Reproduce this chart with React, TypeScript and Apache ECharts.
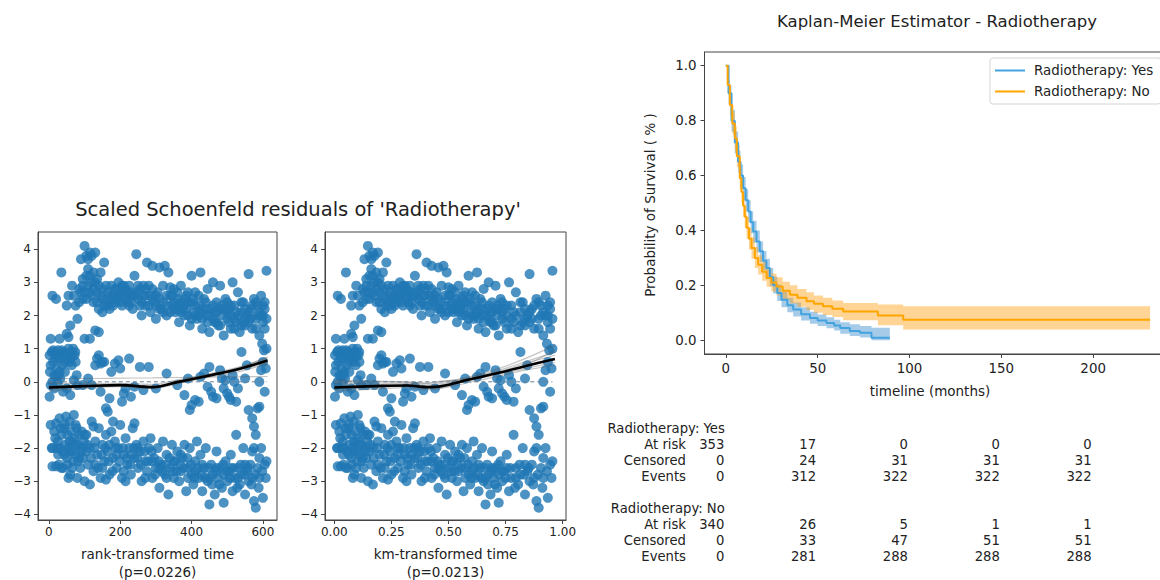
import React, { useEffect, useRef } from "react";
import * as echarts from "echarts";

const FONT = "DejaVu Sans";

// Scaled Schoenfeld residual points: [rank-transformed time, km-transformed time, residual]
const upperPoints = [
  [10,0.015,2.6],[20,0.029,2.5],[35,0.051,3.3],[50,0.074,2.3],[55,0.081,2.6],[65,0.096,2.9],[70,0.103,2.6],[75,0.11,2.3],[80,0.118,1.9],[60,0.088,1.7],
  [85,0.125,2.8],[90,0.132,3.7],[95,0.14,3.1],[100,0.147,4.1],[105,0.154,3.8],[110,0.162,3.7],[115,0.169,3.9],[120,0.176,3.8],[125,0.184,3.3],[130,0.191,3.9],
  [105,0.154,2.5],[110,0.162,2.9],[115,0.169,3.2],[120,0.176,2.6],[125,0.184,2.4],[130,0.191,3.0],[135,0.198,2.7],[100,0.147,2.7],[95,0.14,2.5],[140,0.206,2.2],
  [145,0.213,3.3],[150,0.221,2.1],[155,0.228,3.6],[140,0.206,2.9],[135,0.198,2.4],[90,0.132,2.7],[125,0.184,2.8],[110,0.162,3.4],[145,0.213,2.6],[150,0.221,2.8],
  [160,0.235,2.4],[165,0.243,2.7],[170,0.25,2.2],[175,0.257,2.9],[180,0.265,2.6],[185,0.272,2.8],[190,0.279,2.5],[195,0.287,3.0],[200,0.294,2.7],[205,0.301,2.3],
  [210,0.309,2.6],[215,0.316,2.8],[220,0.323,2.4],[225,0.331,2.9],[230,0.338,2.7],[235,0.345,2.2],[240,0.353,3.2],[245,0.36,3.85],[250,0.368,2.5],[255,0.375,2.8],
  [260,0.382,2.0],[265,0.39,2.6],[270,0.397,2.3],[275,0.404,3.6],[280,0.412,2.9],[285,0.419,2.1],[290,0.426,3.5],[295,0.434,2.4],[300,0.441,1.9],[305,0.448,2.7],
  [310,0.456,3.45],[315,0.463,2.2],[320,0.47,2.9],[325,0.478,3.5],[330,0.485,2.0],[335,0.492,3.3],[340,0.5,2.6],[345,0.507,2.3],[350,0.515,2.8],[355,0.522,2.1],
  [360,0.529,2.5],[365,0.537,1.8],[370,0.544,2.9],[375,0.551,2.2],[380,0.559,2.0],[385,0.566,2.6],[390,0.573,2.4],[395,0.581,1.7],[400,0.588,3.2],[405,0.595,2.1],
  [410,0.603,2.7],[415,0.61,1.9],[420,0.617,2.3],[425,0.625,3.3],[430,0.632,1.6],[435,0.639,2.5],[440,0.647,2.0],[445,0.654,2.8],[450,0.662,1.5],[455,0.669,2.2],
  [460,0.676,3.0],[465,0.684,1.8],[470,0.691,2.4],[475,0.698,1.7],[480,0.706,2.9],[485,0.713,2.0],[490,0.72,1.4],[495,0.728,2.5],[500,0.735,1.9],[505,0.745,2.2],
  [510,0.755,1.6],[515,0.765,3.0],[520,0.775,2.3],[525,0.785,1.8],[530,0.795,2.7],[535,0.805,1.5],[540,0.815,2.1],[545,0.825,2.4],[550,0.835,1.7],[555,0.845,2.0],
  [560,0.855,3.25],[565,0.865,2.2],[570,0.875,1.6],[575,0.885,2.5],[580,0.895,1.9],[585,0.905,2.3],[590,0.915,1.4],[595,0.925,2.6],[600,0.935,2.0],[605,0.945,1.6],
  [610,0.955,3.35],[605,0.945,2.4],[600,0.935,1.8],
  [185,0.272,2.4],[195,0.287,2.6],[205,0.301,2.9],[215,0.316,2.5],[225,0.331,2.3],[175,0.257,2.5],[165,0.243,2.3],[245,0.36,2.7],[255,0.375,2.3],[265,0.39,2.9],
  [285,0.419,2.6],[300,0.441,2.3],[320,0.47,2.4],[340,0.5,2.1],[360,0.529,2.2],[380,0.559,2.5],[400,0.588,1.9],[420,0.617,2.0],[440,0.647,2.4],[460,0.676,1.9],
  [480,0.706,2.2],[500,0.735,2.4],[520,0.775,1.9],[540,0.815,1.7],[560,0.855,2.1],[580,0.895,2.4],[595,0.925,2.0],[470,0.691,2.1],[510,0.755,2.0],[550,0.835,2.2],
  [430,0.632,2.2],[410,0.603,2.3],[390,0.573,2.0],[370,0.544,2.4],[350,0.515,2.4],[330,0.485,2.6],[310,0.456,2.2],[290,0.426,2.8],[270,0.397,2.6],[235,0.345,2.6],
  [100,0.147,1.3],[115,0.169,1.3],[130,0.191,1.55],[140,0.206,1.5],[50,0.074,1.45],[55,0.081,1.35],[30,0.044,1.3],[5,0.007,1.3],
  [160,0.235,2.9],[170,0.25,2.6],[180,0.265,2.3],[190,0.279,2.8],[200,0.294,2.4],[210,0.309,2.9],[220,0.323,2.7],[230,0.338,2.4],[240,0.353,2.6],[250,0.368,2.9],
  [260,0.382,2.4],[270,0.397,2.8],[280,0.412,2.3],[290,0.426,2.5],[300,0.441,2.6],[310,0.456,2.5],[320,0.47,2.1],[330,0.485,2.3],[340,0.5,2.85],[350,0.515,2.2],
  [360,0.529,2.7],[370,0.544,2.1],[380,0.559,2.3],[390,0.573,2.7],[400,0.588,2.4],[410,0.603,2.0],[420,0.617,2.6],[430,0.632,1.9],[440,0.647,2.2],[450,0.662,2.0],
  [460,0.676,2.3],[470,0.691,1.8],[480,0.706,1.7],[490,0.72,2.2],[500,0.735,2.1],[510,0.755,2.3],[520,0.775,1.6],[530,0.795,2.0],[540,0.815,2.4],[550,0.835,1.9],
  [560,0.855,1.8],[570,0.875,2.3],[580,0.895,1.6],[590,0.915,2.1],[600,0.935,2.3],[610,0.955,1.9],[605,0.945,2.2],[585,0.905,2.0],[565,0.865,1.9],[545,0.825,1.8],
  [525,0.785,2.1],[505,0.745,1.8],[485,0.713,2.3],[465,0.684,2.1],[445,0.654,1.8],[425,0.625,2.1],[405,0.595,2.5],[385,0.566,2.2],[365,0.537,2.3],[345,0.507,2.6],
  [120,0.176,3.0],[135,0.198,3.1],[150,0.221,2.5],[155,0.228,2.3],[115,0.169,2.7],[105,0.154,3.2],[85,0.125,2.4],[95,0.14,2.9],
];

const middlePoints = [
  [2,0.003,0.8],[5,0.007,0.5],[8,0.012,0.9],[12,0.018,0.6],[15,0.022,0.2],[18,0.026,0.85],[22,0.032,0.4],[25,0.037,0.95],[28,0.041,0.7],[32,0.047,0.1],
  [35,0.051,0.8],[38,0.056,0.5],[42,0.062,0.9],[45,0.066,0.3],[48,0.071,0.85],[52,0.076,0.7],[55,0.081,1.0],[58,0.085,0.6],[62,0.091,0.9],[65,0.096,0.75],
  [68,0.1,1.0],[72,0.106,0.8],[75,0.11,0.6],[78,0.115,0.2],[5,0.007,-0.1],[10,0.015,0.0],[15,0.022,-0.2],[20,0.029,0.15],[25,0.037,-0.05],[30,0.044,0.3],
  [40,0.059,-0.3],[50,0.074,-0.2],[2,0.003,-0.45],[60,0.088,-0.4],[70,0.103,0.05],[80,0.118,-0.1],[95,0.14,-0.1],[110,0.162,0.1],[130,0.191,0.5],[135,0.198,0.7],
  [140,0.206,0.8],[145,0.213,0.55],[150,0.221,0.6],[155,0.228,0.6],[160,0.235,-0.8],[165,0.243,-0.9],[175,0.257,0.3],[185,0.272,0.55],[195,0.287,0.65],[200,0.294,0.4],
  [210,0.309,-0.35],[215,0.316,-0.2],[230,0.338,-0.45],[240,0.353,-0.15],[255,0.375,0.45],[265,0.39,-0.25],[280,0.412,0.45],[300,0.441,-0.2],[120,0.176,-0.1],[170,0.25,-0.5],
  [225,0.331,0.7],[205,0.301,-0.6],[145,0.213,-0.3],[330,0.485,0.25],[360,0.529,-0.1],[380,0.559,-0.4],[390,0.573,0.1],[395,0.581,-0.85],[400,0.588,-0.7],[410,0.603,-0.55],
  [420,0.617,-0.6],[425,0.625,0.15],[435,0.639,0.25],[445,0.654,-0.15],[450,0.662,0.45],[455,0.669,-0.3],[460,0.676,-0.45],[470,0.691,-0.5],[480,0.706,0.35],[485,0.713,0.1],
  [490,0.72,-0.2],[495,0.728,0.05],[500,0.735,-0.35],[505,0.745,-0.45],[510,0.755,-0.55],[515,0.765,0.2],[520,0.775,0.0],[525,0.785,-0.6],[530,0.795,-0.2],[540,0.815,0.9],
  [550,0.835,0.1],[555,0.845,0.5],[560,0.855,-0.85],[570,0.875,-1.1],[575,0.885,-1.35],[585,0.905,-0.8],[590,0.915,-0.75],[595,0.925,0.35],[600,0.935,0.6],[605,0.945,-0.3],
  [608,0.951,0.4],[610,0.955,1.0],[603,0.941,0.95],[598,0.931,1.15],[590,0.915,0.0],[580,0.895,-1.6],
  [3,0.004,0.3],[12,0.018,0.95],[20,0.029,0.7],[28,0.041,0.2],[36,0.053,0.95],[44,0.065,0.6],[56,0.082,0.85],[64,0.094,0.5],[74,0.109,0.9],
];

const lowerPoints = [
  [5,0.007,-1.3],[8,0.012,-2.0],[10,0.015,-2.55],[15,0.022,-1.5],[20,0.029,-1.25],[22,0.032,-2.0],[25,0.037,-1.8],[28,0.041,-2.5],[30,0.044,-1.1],[35,0.051,-1.6],
  [38,0.056,-2.1],[40,0.059,-2.6],[42,0.062,-1.4],[45,0.066,-1.9],[48,0.071,-1.05],[50,0.074,-2.3],[52,0.076,-1.6],[55,0.081,-2.0],[58,0.085,-1.2],[60,0.088,-2.8],
  [62,0.091,-1.5],[65,0.096,-1.8],[68,0.1,-2.4],[70,0.103,-1.0],[72,0.106,-1.7],[75,0.11,-2.2],[78,0.115,-1.4],[80,0.118,-2.9],[82,0.121,-1.9],[85,0.125,-1.6],
  [88,0.129,-2.6],[90,0.132,-2.0],[92,0.135,-1.5],[95,0.14,-2.3],[98,0.144,-1.8],[100,0.147,-3.0],[55,0.081,-2.9],[35,0.051,-2.6],[65,0.096,-2.6],[45,0.066,-1.3],
  [105,0.154,-1.6],[110,0.162,-2.5],[115,0.169,-2.0],[120,0.176,-1.2],[125,0.184,-2.7],[130,0.191,-1.8],[135,0.198,-2.2],[140,0.206,-1.4],[145,0.213,-2.9],[150,0.221,-1.9],
  [155,0.228,-2.4],[160,0.235,-1.6],[165,0.243,-2.1],[170,0.25,-2.8],[175,0.257,-1.5],[180,0.265,-2.3],[185,0.272,-1.8],[190,0.279,-2.6],[195,0.287,-2.0],[200,0.294,-1.3],
  [205,0.301,-2.9],[210,0.309,-2.2],[215,0.316,-1.7],[220,0.323,-2.5],[225,0.331,-2.0],[230,0.338,-2.8],[235,0.345,-1.4],[240,0.353,-2.3],[245,0.36,-1.9],[250,0.368,-2.6],
  [255,0.375,-2.1],[260,0.382,-3.0],[265,0.39,-1.8],[270,0.397,-2.4],[275,0.404,-2.7],[280,0.412,-2.0],[285,0.419,-1.7],[290,0.426,-2.9],[295,0.434,-2.3],[300,0.441,-2.6],
  [115,0.169,-3.1],[160,0.235,-2.95],[215,0.316,-3.0],[240,0.353,-1.25],[125,0.184,-1.35],[180,0.265,-1.2],[305,0.448,-2.0],[310,0.456,-3.2],[315,0.463,-2.5],[320,0.47,-1.8],
  [325,0.478,-2.8],[330,0.485,-2.2],[335,0.492,-3.4],[340,0.5,-2.6],[345,0.507,-1.9],[350,0.515,-2.9],[355,0.522,-2.4],[360,0.529,-2.1],[365,0.537,-3.0],[370,0.544,-2.7],
  [375,0.551,-2.3],[380,0.559,-1.9],[385,0.566,-3.3],[390,0.573,-2.6],[395,0.581,-2.0],[400,0.588,-2.8],[405,0.595,-3.1],[410,0.603,-2.4],[415,0.61,-1.8],[420,0.617,-2.9],
  [425,0.625,-2.2],[430,0.632,-3.3],[435,0.639,-2.6],[440,0.647,-2.0],[445,0.654,-3.0],[450,0.662,-3.7],[455,0.669,-2.5],[460,0.676,-2.8],[465,0.684,-3.4],[470,0.691,-2.1],
  [475,0.698,-2.9],[480,0.706,-2.6],[485,0.713,-3.2],[490,0.72,-3.65],[495,0.728,-2.4],[500,0.735,-3.0],[505,0.745,-2.7],[510,0.755,-2.2],[515,0.765,-3.3],[520,0.775,-2.9],
  [525,0.785,-1.6],[530,0.795,-2.6],[535,0.805,-3.1],[540,0.815,-2.8],[545,0.825,-2.0],[550,0.835,-3.4],[555,0.845,-2.7],[560,0.855,-3.0],[565,0.865,-2.5],[570,0.875,-2.1],
  [575,0.885,-3.6],[580,0.895,-3.8],[585,0.905,-2.6],[590,0.915,-2.9],[595,0.925,-2.0],[600,0.935,-3.5],[605,0.945,-2.5],[610,0.955,-2.4],[575,0.885,-2.0],
  [20,0.029,-2.55],[30,0.044,-2.0],[60,0.088,-2.1],[75,0.11,-1.3],[85,0.125,-2.3],[105,0.154,-2.1],[130,0.191,-2.5],[150,0.221,-2.6],[170,0.25,-1.9],[190,0.279,-2.2],
  [210,0.309,-2.7],[230,0.338,-2.2],[250,0.368,-2.0],[270,0.397,-2.9],[290,0.426,-2.4],[310,0.456,-2.6],[330,0.485,-2.9],[350,0.515,-2.4],[370,0.544,-2.2],[390,0.573,-2.9],
  [410,0.603,-2.7],[430,0.632,-2.5],[450,0.662,-2.9],[470,0.691,-2.6],[490,0.72,-2.8],[510,0.755,-2.6],[530,0.795,-2.9],[550,0.835,-2.5],[570,0.875,-2.9],[590,0.915,-2.3],
  [10,0.015,-2.0],[18,0.026,-1.7],[26,0.038,-2.2],[33,0.049,-1.4],[44,0.065,-2.2],[52,0.076,-2.5],[58,0.085,-1.8],[66,0.097,-2.1],[74,0.109,-1.9],[82,0.121,-2.4],
  [92,0.135,-2.1],[100,0.147,-1.6],[108,0.159,-1.9],[118,0.173,-2.3],[128,0.188,-2.0],[138,0.203,-2.6],[148,0.218,-2.2],[158,0.232,-2.0],[168,0.247,-2.4],[178,0.262,-2.7],
  [188,0.276,-2.0],[198,0.291,-2.4],[208,0.306,-2.0],[218,0.32,-2.3],[228,0.335,-2.5],[238,0.35,-2.0],[248,0.365,-2.3],[258,0.379,-2.5],[268,0.394,-2.1],[278,0.409,-2.4],
  [288,0.423,-2.1],[298,0.438,-2.8],[308,0.453,-2.4],[318,0.467,-2.7],[328,0.482,-2.5],[338,0.497,-2.3],[348,0.512,-2.7],[358,0.526,-2.7],[368,0.541,-2.5],[378,0.556,-2.6],
  [388,0.57,-2.3],[398,0.585,-2.5],[408,0.6,-2.9],[418,0.614,-2.6],[428,0.629,-2.8],[438,0.644,-2.9],[448,0.659,-2.6],[458,0.673,-3.1],[468,0.688,-2.7],[478,0.703,-3.1],
  [488,0.717,-2.5],[498,0.732,-2.7],[508,0.751,-2.9],[518,0.771,-2.6],[528,0.791,-3.2],[538,0.811,-2.5],[548,0.831,-2.8],[558,0.851,-2.6],[568,0.871,-3.1],[578,0.891,-2.8],
  [588,0.911,-3.2],[598,0.931,-2.7],[608,0.951,-2.9],
];

// Lowess fits (main + bootstrap)
const rankLowessX = [0, 100, 200, 290, 360, 440, 530, 613];
const rankLowessMain = [-0.17, -0.13, -0.1, -0.16, -0.01, 0.17, 0.38, 0.64];
const rankLowessBoot = [
  [-0.05, -0.05, -0.05, -0.08, 0.06, 0.22, 0.44, 0.72],
  [-0.28, -0.2, -0.15, -0.2, -0.06, 0.12, 0.3, 0.55],
  [0.1, 0.1, 0.11, 0.12, 0.13, 0.14, 0.15, 0.16],
  [-0.22, -0.16, -0.12, -0.18, -0.02, 0.18, 0.42, 0.75],
  [-0.12, -0.1, -0.08, -0.13, 0.02, 0.2, 0.35, 0.58],
  [-0.2, -0.12, -0.09, -0.14, 0.0, 0.16, 0.4, 0.68],
];
const kmLowessX = [0, 0.18, 0.32, 0.4, 0.47, 0.59, 0.72, 0.835, 0.966];
const kmLowessMain = [-0.17, -0.13, -0.11, -0.16, -0.13, 0.07, 0.27, 0.47, 0.69];
const kmLowessBoot = [
  [-0.05, -0.06, -0.05, -0.09, -0.05, 0.12, 0.35, 0.6, 0.9],
  [-0.28, -0.22, -0.18, -0.24, -0.2, -0.02, 0.17, 0.35, 0.5],
  [0.0, 0.0, -0.02, -0.05, 0.0, 0.15, 0.4, 0.7, 1.1],
  [-0.22, -0.17, -0.14, -0.2, -0.17, 0.04, 0.22, 0.4, 0.58],
  [-0.1, -0.1, -0.08, -0.12, -0.09, 0.1, 0.3, 0.55, 0.8],
  [0.05, 0.02, 0.0, -0.04, 0.02, 0.08, 0.25, 0.5, 0.95],
];
const rankZeroExtent = [0, 610];
const kmZeroExtent = [0, 0.955];

// Kaplan-Meier curves (months, survival) with confidence bands
const yesTimes = [0,1.5,3.1,4.9,6.7,8,9.4,10.8,12.2,13.5,14.9,16.7,18.5,20.3,22.1,24,25.8,28,30.3,33.5,36.7,41,45.8,50,54.8,59,62.3,67.5,73,79.3,89.3];
const yesSurv = [1,0.9,0.8,0.72,0.65,0.6,0.554,0.51,0.469,0.43,0.396,0.36,0.324,0.29,0.263,0.23,0.2,0.172,0.148,0.128,0.112,0.095,0.081,0.072,0.063,0.054,0.045,0.034,0.027,0.009,0.009];
const yesUpper = [1,0.93,0.84,0.76,0.69,0.64,0.595,0.55,0.51,0.47,0.435,0.4,0.36,0.325,0.297,0.263,0.232,0.203,0.177,0.155,0.138,0.12,0.104,0.094,0.084,0.075,0.066,0.058,0.052,0.046,0.046];
const yesLower = [1,0.86,0.76,0.68,0.61,0.56,0.51,0.47,0.43,0.39,0.355,0.32,0.285,0.255,0.228,0.197,0.17,0.143,0.12,0.102,0.087,0.072,0.06,0.052,0.044,0.036,0.024,0.016,0.01,0.0,0.0];

const noTimes = [0,1,2.2,3.5,4.9,6,7.6,8.5,9.4,10.3,11.3,12.6,14,15.8,17.6,19.8,22.2,24.8,27.6,31,34.9,39,43.9,48,52.9,58,63.9,82.8,96.6,231];
const noSurv = [1,0.93,0.857,0.79,0.736,0.67,0.59,0.54,0.49,0.45,0.41,0.37,0.336,0.3,0.275,0.25,0.227,0.21,0.196,0.18,0.166,0.155,0.142,0.133,0.124,0.115,0.105,0.09,0.075,0.075];
const noUpper = [1,0.95,0.89,0.83,0.78,0.71,0.63,0.58,0.53,0.49,0.45,0.41,0.375,0.34,0.31,0.285,0.26,0.243,0.23,0.213,0.2,0.187,0.175,0.163,0.155,0.145,0.136,0.13,0.124,0.124];
const noLower = [1,0.9,0.82,0.75,0.69,0.63,0.55,0.5,0.45,0.41,0.37,0.33,0.297,0.263,0.24,0.217,0.195,0.178,0.163,0.148,0.134,0.122,0.11,0.1,0.092,0.085,0.073,0.055,0.039,0.039];

// At-risk table
const tableTimes = [0, 50, 100, 150, 200];
const yesAtRisk = [353, 17, 0, 0, 0];
const yesCensored = [0, 24, 31, 31, 31];
const yesEvents = [0, 312, 322, 322, 322];
const noAtRisk = [340, 26, 5, 1, 1];
const noCensored = [0, 33, 47, 51, 51];
const noEvents = [0, 281, 288, 288, 288];

const rankTicks = [0, 200, 400, 600];
const kmTicks = [0, 0.25, 0.5, 0.75, 1.0];
const residTicks = [-4, -3, -2, -1, 0, 1, 2, 3, 4];
const kmXTicks = [0, 50, 100, 150, 200];
const survTicks = [0, 0.2, 0.4, 0.6, 0.8, 1.0];

const BLUE_PT = "#1f77b4";
const YES_COLOR = "#43A3DE";
const NO_COLOR = "#FFA500";
const AXIS_COLOR = "#444";
const TEXT_COLOR = "#222";

// Layout
const G0 = { left: 38, top: 232, width: 239, height: 288 };
const G1 = { left: 325, top: 232, width: 241, height: 288 };
const G2 = { left: 704.5, top: 52, width: 468, height: 302 };
const KMX = { min: -11.6, max: 243.2 };

function axisCfg(gridIndex: number, min: number, max: number, ticks: number[], fmt: (v: number) => string, fontSize: number, margin: number) {
  return {
    type: "value", gridIndex, min, max,
    splitLine: { show: false },
    axisLine: { show: true, onZero: false, lineStyle: { color: AXIS_COLOR, width: 1 } },
    axisTick: { show: true, length: 4, customValues: ticks, lineStyle: { color: AXIS_COLOR } },
    axisLabel: { customValues: ticks, formatter: fmt, color: TEXT_COLOR, fontFamily: FONT, fontSize, margin },
  };
}

function bandSeries(times: number[], lower: number[], upper: number[], fill: string) {
  return {
    type: "custom", xAxisIndex: 2, yAxisIndex: 2, silent: true, clip: true, z: 1,
    data: [[times[0], upper[0]]],
    renderItem: (_params: any, api: any) => {
      const up: number[][] = [];
      const low: number[][] = [];
      for (let i = 0; i < times.length; i++) {
        up.push(api.coord([times[i], upper[i]]));
        low.push(api.coord([times[i], lower[i]]));
        if (i < times.length - 1) {
          up.push(api.coord([times[i + 1], upper[i]]));
          low.push(api.coord([times[i + 1], lower[i]]));
        }
      }
      return { type: "polygon", shape: { points: [...up, ...low.reverse()] }, style: { fill, stroke: null } };
    },
  };
}

export default function App() {
  const ref = useRef<HTMLDivElement>(null);
  useEffect(() => {
    const chart = echarts.init(ref.current!, null, { renderer: "svg" });
    const allPoints = [...upperPoints, ...middlePoints, ...lowerPoints];
    const series: any[] = [];

    series.push({
      type: "scatter", xAxisIndex: 0, yAxisIndex: 0, symbolSize: 10,
      itemStyle: { color: BLUE_PT, opacity: 0.8 }, silent: true,
      data: allPoints.map((p) => [p[0], p[2]]),
    });
    series.push({
      type: "scatter", xAxisIndex: 1, yAxisIndex: 1, symbolSize: 10,
      itemStyle: { color: BLUE_PT, opacity: 0.8 }, silent: true,
      data: allPoints.map((p) => [p[1], p[2]]),
    });
    const lineCommon = { type: "line", showSymbol: false, symbol: "none", silent: true, smooth: 0.35 };
    rankLowessBoot.forEach((arr) => series.push({
      ...lineCommon, xAxisIndex: 0, yAxisIndex: 0,
      lineStyle: { color: "rgba(90,90,90,0.35)", width: 1.2 },
      data: rankLowessX.map((x, i) => [x, arr[i]]),
    }));
    kmLowessBoot.forEach((arr) => series.push({
      ...lineCommon, xAxisIndex: 1, yAxisIndex: 1,
      lineStyle: { color: "rgba(90,90,90,0.35)", width: 1.2 },
      data: kmLowessX.map((x, i) => [x, arr[i]]),
    }));
    series.push({
      type: "line", xAxisIndex: 0, yAxisIndex: 0, showSymbol: false, symbol: "none", silent: true,
      lineStyle: { color: "#6c7f93", width: 1, type: [4, 3] },
      data: rankZeroExtent.map((x) => [x, 0]),
    });
    series.push({
      type: "line", xAxisIndex: 1, yAxisIndex: 1, showSymbol: false, symbol: "none", silent: true,
      lineStyle: { color: "#6c7f93", width: 1, type: [4, 3] },
      data: kmZeroExtent.map((x) => [x, 0]),
    });
    series.push({
      ...lineCommon, xAxisIndex: 0, yAxisIndex: 0,
      lineStyle: { color: "#000", width: 2.6 },
      data: rankLowessX.map((x, i) => [x, rankLowessMain[i]]),
    });
    series.push({
      ...lineCommon, xAxisIndex: 1, yAxisIndex: 1,
      lineStyle: { color: "#000", width: 2.6 },
      data: kmLowessX.map((x, i) => [x, kmLowessMain[i]]),
    });

    series.push(bandSeries(yesTimes, yesLower, yesUpper, "rgba(55,140,205,0.45)"));
    series.push(bandSeries(noTimes, noLower, noUpper, "rgba(255,160,20,0.45)"));
    series.push({
      name: "Radiotherapy: Yes", type: "line", xAxisIndex: 2, yAxisIndex: 2, step: "end", symbol: "none", showSymbol: false, z: 3,
      color: YES_COLOR, lineStyle: { color: YES_COLOR, width: 2 }, data: yesTimes.map((t, i) => [t, yesSurv[i]]),
    });
    series.push({
      name: "Radiotherapy: No", type: "line", xAxisIndex: 2, yAxisIndex: 2, step: "end", symbol: "none", showSymbol: false, z: 3,
      color: NO_COLOR, lineStyle: { color: NO_COLOR, width: 2 }, data: noTimes.map((t, i) => [t, noSurv[i]]),
    });

    const txt = (text: string, x: number, y: number, size: number, align = "center", extra: any = {}) => ({
      type: "text", x, y, silent: true, ...extra,
      style: { text, fontFamily: FONT, fontSize: size, fill: TEXT_COLOR, align, verticalAlign: "middle" },
    });

    const kmPx = (t: number) => G2.left + ((t - KMX.min) / (KMX.max - KMX.min)) * G2.width;
    const graphics: any[] = [
      txt("Scaled Schoenfeld residuals of 'Radiotherapy'", 298, 209, 19.5),
      txt("rank-transformed time", G0.left + G0.width / 2, 554, 13.5),
      txt("(p=0.0226)", G0.left + G0.width / 2, 572, 13.5),
      txt("km-transformed time", G1.left + G1.width / 2, 554, 13.5),
      txt("(p=0.0213)", G1.left + G1.width / 2, 572, 13.5),
      txt("Kaplan-Meier Estimator - Radiotherapy", 937, 21, 16.5),
      txt("timeline (months)", 930, 391, 13.5),
      txt("Probability of Survival ( % )", 650, 205, 13.5, "center", { rotation: Math.PI / 2 }),
    ];
    const groups = [
      { title: "Radiotherapy: Yes", y: 428, rows: [["At risk", yesAtRisk], ["Censored", yesCensored], ["Events", yesEvents]] },
      { title: "Radiotherapy: No", y: 508, rows: [["At risk", noAtRisk], ["Censored", noCensored], ["Events", noEvents]] },
    ];
    const rowGap = [16.5, 32.5, 48.5];
    groups.forEach((g) => {
      graphics.push(txt(g.title, kmPx(tableTimes[0]) - 1, g.y, 13.2, "right"));
      g.rows.forEach((r: any, ri) => {
        const y = g.y + rowGap[ri];
        graphics.push(txt(r[0], 686, y, 13.2, "right"));
        (r[1] as number[]).forEach((v, ci) => graphics.push(txt(String(v), kmPx(tableTimes[ci]) - 1.5, y, 13.2, "right")));
      });
    });

    const option: any = {
      animation: false,
      backgroundColor: "#fff",
      grid: [
        { ...G0, show: true, borderColor: AXIS_COLOR, borderWidth: 1, containLabel: false },
        { ...G1, show: true, borderColor: AXIS_COLOR, borderWidth: 1, containLabel: false },
        { ...G2, show: true, borderColor: AXIS_COLOR, borderWidth: 1, containLabel: false },
      ],
      xAxis: [
        axisCfg(0, -30.5, 639.5, rankTicks, (v: number) => String(v), 12, 6),
        axisCfg(1, -0.0407, 1.0145, kmTicks, (v: number) => v.toFixed(2), 12, 6),
        axisCfg(2, KMX.min, KMX.max, kmXTicks, (v: number) => String(v), 13.4, 8),
      ],
      yAxis: [
        axisCfg(0, -4.17, 4.52, residTicks, (v: number) => String(v).replace("-", "\u2212"), 12, 7),
        axisCfg(1, -4.17, 4.52, residTicks, (v: number) => String(v).replace("-", "\u2212"), 12, 7),
        axisCfg(2, -0.05, 1.05, survTicks, (v: number) => v.toFixed(1), 13.4, 8),
      ],
      legend: {
        data: [{ name: "Radiotherapy: Yes", icon: "rect" }, { name: "Radiotherapy: No", icon: "rect" }],
        orient: "vertical", left: 990, top: 58, itemWidth: 30, itemHeight: 2, itemGap: 8,
        padding: [6, 8, 6, 5], borderColor: "#d4d4d4", borderWidth: 1, borderRadius: 3,
        backgroundColor: "rgba(255,255,255,0.85)", selectedMode: false,
        textStyle: { fontFamily: FONT, fontSize: 13.4, color: TEXT_COLOR, padding: [0, 0, 0, 4] },
      },
      series,
      graphic: graphics,
    };
    chart.setOption(option);
    return () => chart.dispose();
  }, []);
  return <div ref={ref} style={{ position: "fixed", left: 0, top: 0, width: 1190, height: 580, background: "#fff" }} />;
}
